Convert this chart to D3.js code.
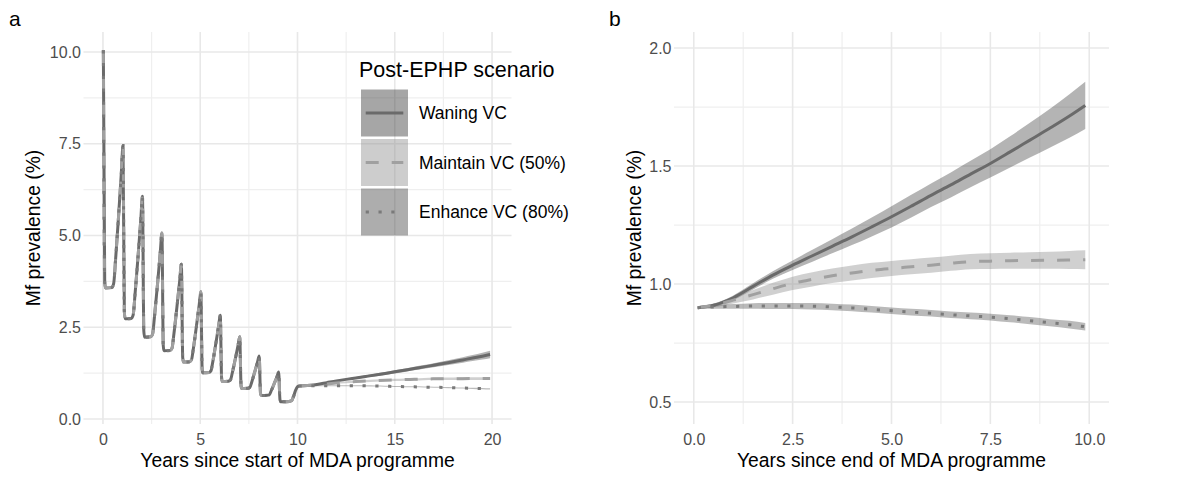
<!DOCTYPE html>
<meta charset="utf-8">
<style>
  body { margin: 0; background: #fff; }
  svg { font-family: "Liberation Sans", Arial, Helvetica, sans-serif; }
</style>
<svg width="1182" height="482"></svg>
<script src="https://cdn.jsdelivr.net/npm/d3@7/dist/d3.min.js"></script>
<script>

// MDA phase (same for all scenarios), years since start of programme
var mdaYears = [0.02, 0.09, 0.13, 0.45, 0.55, 0.65, 0.8, 0.95,
                1.03, 1.1, 1.14, 1.45, 1.55, 1.65, 1.8, 1.95,
                2.03, 2.1, 2.14, 2.45, 2.55, 2.65, 2.8, 2.95,
                3.03, 3.1, 3.14, 3.45, 3.55, 3.65, 3.8, 3.95,
                4.03, 4.1, 4.14, 4.45, 4.55, 4.65, 4.8, 4.95,
                5.03, 5.1, 5.14, 5.45, 5.55, 5.65, 5.8, 5.95,
                6.03, 6.1, 6.14, 6.45, 6.55, 6.65, 6.8, 6.95,
                7.03, 7.1, 7.14, 7.45, 7.55, 7.65, 7.8, 7.95,
                8.03, 8.1, 8.14, 8.45, 8.55, 8.65, 8.8, 8.95,
                9.03, 9.1, 9.14, 9.45, 9.7, 9.8, 9.9, 10.0];
var mdaPrev = [10.05, 3.75, 3.57, 3.58, 3.69, 4.35, 5.51, 6.75,
               7.45, 2.93, 2.73, 2.74, 2.83, 3.40, 4.40, 5.47,
               6.07, 2.40, 2.23, 2.24, 2.31, 2.80, 3.65, 4.56,
               5.07, 2.00, 1.86, 1.87, 1.93, 2.33, 3.04, 3.80,
               4.22, 1.67, 1.55, 1.56, 1.61, 1.93, 2.51, 3.12,
               3.47, 1.36, 1.26, 1.27, 1.31, 1.57, 2.05, 2.55,
               2.83, 1.10, 1.02, 1.03, 1.06, 1.26, 1.63, 2.02,
               2.24, 0.90, 0.83, 0.84, 0.86, 1.01, 1.28, 1.56,
               1.72, 0.69, 0.64, 0.65, 0.66, 0.77, 0.96, 1.16,
               1.28, 0.52, 0.47, 0.47, 0.50, 0.62, 0.78, 0.88];

// post-EPHP scenarios, years since end of MDA programme
var postYears = [0.1, 0.5, 1, 1.5, 2, 2.5, 3, 3.5, 4, 4.5, 5, 5.5, 6, 6.5, 7, 7.5, 8, 8.5, 9, 9.5, 9.9];

var waningMid  = [0.900, 0.910, 0.942, 0.990, 1.038, 1.080, 1.120, 1.160, 1.200, 1.242, 1.285,
                  1.330, 1.376, 1.420, 1.466, 1.511, 1.560, 1.610, 1.660, 1.712, 1.757];
var waningLow  = [0.895, 0.903, 0.932, 0.977, 1.022, 1.060, 1.095, 1.130, 1.165, 1.202, 1.240,
                  1.282, 1.326, 1.367, 1.410, 1.451, 1.494, 1.536, 1.578, 1.620, 1.657];
var waningHigh = [0.905, 0.917, 0.952, 1.003, 1.054, 1.100, 1.145, 1.190, 1.235, 1.282, 1.330,
                  1.378, 1.426, 1.473, 1.522, 1.571, 1.626, 1.684, 1.742, 1.804, 1.857];

var maintainMid  = [0.900, 0.910, 0.932, 0.955, 0.980, 1.003, 1.020, 1.035, 1.047, 1.058, 1.066,
                    1.073, 1.080, 1.088, 1.095, 1.097, 1.099, 1.100, 1.101, 1.102, 1.103];
var maintainLow  = [0.896, 0.902, 0.918, 0.935, 0.955, 0.975, 0.990, 1.004, 1.015, 1.026, 1.034,
                    1.041, 1.048, 1.056, 1.063, 1.064, 1.065, 1.065, 1.065, 1.064, 1.063];
var maintainHigh = [0.904, 0.918, 0.946, 0.975, 1.005, 1.031, 1.050, 1.066, 1.079, 1.090, 1.098,
                    1.105, 1.112, 1.120, 1.127, 1.130, 1.133, 1.135, 1.137, 1.140, 1.143];

var enhanceMid  = [0.900, 0.903, 0.905, 0.907, 0.907, 0.907, 0.906, 0.903, 0.899, 0.893, 0.887,
                   0.881, 0.876, 0.870, 0.865, 0.860, 0.853, 0.845, 0.836, 0.828, 0.819];
var enhanceLow  = [0.896, 0.895, 0.895, 0.895, 0.894, 0.894, 0.892, 0.889, 0.885, 0.879, 0.873,
                   0.867, 0.862, 0.856, 0.851, 0.846, 0.838, 0.830, 0.821, 0.812, 0.803];
var enhanceHigh = [0.904, 0.911, 0.915, 0.919, 0.920, 0.920, 0.920, 0.917, 0.913, 0.907, 0.901,
                   0.895, 0.890, 0.884, 0.879, 0.874, 0.868, 0.860, 0.851, 0.844, 0.835];

var scenarioNames = ["Waning VC", "Maintain VC (50%)", "Enhance VC (80%)"];

// axis breaks
var aXTicks = [0, 5, 10, 15, 20], aXMinor = [2.5, 7.5, 12.5, 17.5];
var aYTicks = [0, 2.5, 5, 7.5, 10], aYMinor = [1.25, 3.75, 6.25, 8.75];
var bXTicks = [0, 2.5, 5, 7.5, 10], bXMinor = [1.25, 3.75, 6.25, 8.75];
var bYTicks = [0.5, 1, 1.5, 2], bYMinor = [0.75, 1.25, 1.75];

var styles = [
  {line: "#6a6a6a", dash: null,      fill: "#3a3a3a", op: 0.38, keyOp: 0.45},
  {line: "#a0a0a0", dash: "13,13",   fill: "#8a8a8a", op: 0.40, keyOp: 0.43},
  {line: "#7a7a7a", dash: "3.2,9.6", fill: "#4a4a4a", op: 0.38, keyOp: 0.45}
];

var post = [
  {mid: waningMid, lo: waningLow, hi: waningHigh},
  {mid: maintainMid, lo: maintainLow, hi: maintainHigh},
  {mid: enhanceMid, lo: enhanceLow, hi: enhanceHigh}
];

var svg = d3.select("svg"),
    panelTop = 32, panelBottom = 424;

var lineW = 3;

function panel(o) {
  var x = d3.scaleLinear().domain(o.xDomain).range(o.xRange),
      y = d3.scaleLinear().domain(o.yDomain).range([panelBottom, panelTop]),
      g = svg.append("g");

  // grid
  g.selectAll(".gxm").data(o.xMinor).enter().append("line")
    .attr("x1", x).attr("x2", x).attr("y1", panelTop).attr("y2", panelBottom)
    .attr("stroke", "#efefef").attr("stroke-width", 1.2);
  g.selectAll(".gym").data(o.yMinor).enter().append("line")
    .attr("y1", y).attr("y2", y).attr("x1", o.xRange[0]).attr("x2", o.xRange[1])
    .attr("stroke", "#efefef").attr("stroke-width", 1.2);
  g.selectAll(".gx").data(o.xTicks).enter().append("line")
    .attr("x1", x).attr("x2", x).attr("y1", panelTop).attr("y2", panelBottom)
    .attr("stroke", "#e8e8e8").attr("stroke-width", 1.6);
  g.selectAll(".gy").data(o.yTicks).enter().append("line")
    .attr("y1", y).attr("y2", y).attr("x1", o.xRange[0]).attr("x2", o.xRange[1])
    .attr("stroke", "#e8e8e8").attr("stroke-width", 1.6);

  var area = d3.area().curve(d3.curveMonotoneX)
      .x(d => x(d.t)).y0(d => y(d.lo)).y1(d => y(d.hi));
  var line = d3.line().curve(d3.curveMonotoneX)
      .x(d => x(d.t)).y(d => y(d.v));

  // ribbons
  post.forEach((s, i) => {
    var pts = postYears.map((t, j) => ({t: t + o.shift, lo: s.lo[j], hi: s.hi[j]}));
    g.append("path").datum(pts).attr("d", area)
      .attr("fill", styles[i].fill).attr("fill-opacity", styles[i].op);
  });

  // lines
  post.forEach((s, i) => {
    var pts = postYears.map((t, j) => ({t: t + o.shift, v: s.mid[j]}));
    if (o.withMda) {
      pts = mdaYears.map((t, j) => ({t: t, v: mdaPrev[j]})).concat(pts);
    }
    g.append("path").datum(pts).attr("d", line)
      .attr("fill", "none")
      .attr("stroke", styles[i].line)
      .attr("stroke-width", lineW)
      .attr("stroke-dasharray", styles[i].dash);
  });

  // axes (labels only, like theme_minimal)
  var ax = g.append("g").attr("transform", "translate(0," + panelBottom + ")")
    .call(d3.axisBottom(x).tickValues(o.xTicks).tickFormat(o.xFmt).tickSize(0).tickPadding(10));
  var ay = g.append("g").attr("transform", "translate(" + o.xRange[0] + ",0)")
    .call(d3.axisLeft(y).tickValues(o.yTicks).tickFormat(d3.format(".1f")).tickSize(0).tickPadding(2.5));
  [ax, ay].forEach(a => {
    a.select(".domain").remove();
    a.selectAll("text").attr("fill", "#4d4d4d").style("font-size", "16px")
      .style("font-family", "'Liberation Sans', Arial, sans-serif");
  });

  g.append("text")
    .attr("x", (o.xRange[0] + o.xRange[1]) / 2).attr("y", 467)
    .attr("text-anchor", "middle").style("font-size", "19.3px")
    .text(o.xTitle);
  g.append("text")
    .attr("transform", "translate(" + o.yTitleX + "," + (panelTop + panelBottom) / 2 + ") rotate(-90)")
    .attr("text-anchor", "middle").style("font-size", "19.3px")
    .text("Mf prevalence (%)");
  g.append("text")
    .attr("x", o.tagX).attr("y", 26).style("font-size", "21px")
    .text(o.tag);

  return g;
}

var ga = panel({
  xDomain: [-1, 21], xRange: [83.5, 511.5],
  yDomain: [-0.136, 10.545],
  xTicks: aXTicks, xMinor: aXMinor, yTicks: aYTicks, yMinor: aYMinor,
  xFmt: d3.format("d"), shift: 10, withMda: true,
  xTitle: "Years since start of MDA programme", yTitleX: 40, tag: "a", tagX: 9
});

panel({
  xDomain: [-0.5, 10.5], xRange: [674, 1109],
  yDomain: [0.407, 2.068],
  xTicks: bXTicks, xMinor: bXMinor, yTicks: bYTicks, yMinor: bYMinor,
  xFmt: d3.format(".1f"), shift: 0, withMda: false,
  xTitle: "Years since end of MDA programme", yTitleX: 641, tag: "b", tagX: 609
});

// legend
var key = 47, keyGap = 49.5,
    legend = ga.append("g").attr("transform", "translate(361,0)");

legend.append("text").attr("x", -2).attr("y", 77)
  .style("font-size", "21.5px").text("Post-EPHP scenario");

var item = legend.selectAll(".item").data(scenarioNames).enter().append("g")
  .attr("transform", (d, i) => "translate(0," + (89.5 + i * keyGap) + ")");

item.append("rect").attr("width", key).attr("height", key)
  .attr("fill", (d, i) => styles[i].fill)
  .attr("fill-opacity", (d, i) => styles[i].keyOp);
item.append("line")
  .attr("x1", key * 0.1).attr("x2", key * 0.9)
  .attr("y1", key / 2).attr("y2", key / 2)
  .attr("stroke", (d, i) => styles[i].line)
  .attr("stroke-width", lineW)
  .attr("stroke-dasharray", (d, i) => styles[i].dash);
item.append("text").attr("x", 58).attr("y", key / 2).attr("dy", "0.35em")
  .style("font-size", "17.5px").text(d => d);

</script>
